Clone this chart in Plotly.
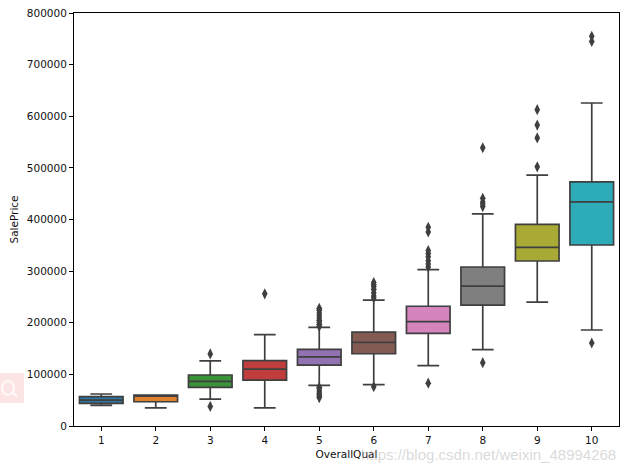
import plotly.graph_objects as go

categories = ["1", "2", "3", "4", "5", "6", "7", "8", "9", "10"]
q1 = [44000, 47000, 75000, 89000, 118000, 140000, 179500, 234000, 319600, 350600]
medians = [50000, 60000, 86500, 110000, 134000, 162000, 202000, 271000, 346000, 434000]
q3 = [56800, 60000, 98800, 126600, 148500, 182000, 232000, 308000, 390600, 473000]
low_whisker = [40000, 35300, 52000, 35000, 78800, 80000, 116800, 147800, 240000, 186000]
high_whisker = [62000, 60000, 126000, 177000, 191000, 244000, 303000, 411000, 486000, 625700]
outliers = [
    [],
    [],
    [37900, 139600],
    [256000],
    [55000, 58000, 61000, 64000, 68000, 72000, 75000, 193000, 197000, 201000, 205000, 209000, 214000, 219000, 224000, 228000],
    [76000, 248000, 252000, 258000, 265000, 270000, 274000, 278000],
    [83000, 308000, 314000, 320000, 328000, 334000, 340000, 376000, 385000],
    [122600, 425000, 430000, 434000, 441000, 539000],
    [502000, 558000, 583000, 612700],
    [160800, 745000, 755000],
]
colors = ["#3274a1", "#e1812c", "#3a923a", "#c03d3e", "#9372b2",
          "#845b53", "#d684bd", "#7f7f7f", "#a9aa35", "#2eabb8"]
x_title = "OverallQual"
y_title = "SalePrice"
watermark = "https://blog.csdn.net/weixin_48994268"
y_ticks = [0, 100000, 200000, 300000, 400000, 500000, 600000, 700000, 800000]

EDGE = "#3f3f3f"
FONT = "DejaVu Sans"
W, H = 626, 472
L, R, T, B = 74, 7, 13, 46

def px(x):
    return (x - L) / (W - L - R)

def py(y):
    return (H - B - y) / (H - T - B)

fig = go.Figure()
for i, c in enumerate(categories):
    fig.add_trace(go.Box(
        x=[c], q1=[q1[i]], median=[medians[i]], q3=[q3[i]],
        lowerfence=[low_whisker[i]], upperfence=[high_whisker[i]],
        width=0.8, whiskerwidth=0.5, boxpoints=False,
        fillcolor=colors[i], line=dict(color=EDGE, width=1.7),
        showlegend=False,
    ))
    if outliers[i]:
        fig.add_trace(go.Scatter(
            x=[c] * len(outliers[i]), y=outliers[i], mode="markers",
            marker=dict(symbol="diamond-tall", size=8, color=EDGE),
            showlegend=False,
        ))

axis_common = dict(
    showgrid=False, zeroline=False, showline=True, linecolor="#000000", linewidth=1,
    mirror=True, ticks="outside", ticklen=4, tickwidth=1, tickcolor="#000000",
    tickfont=dict(family=FONT, size=10.5, color="#111111"),
)
fig.update_xaxes(type="category", categoryorder="array", categoryarray=categories,
                 range=[-0.5, 9.5], tickmode="array", tickvals=categories, ticktext=categories,
                 title=dict(text=x_title, font=dict(family=FONT, size=10.5, color="#111111"), standoff=6),
                 **axis_common)
fig.update_yaxes(range=[0, 800000], tickmode="array", tickvals=y_ticks,
                 ticktext=[str(v) for v in y_ticks],
                 title=dict(text=y_title, font=dict(family=FONT, size=10.5, color="#111111"), standoff=6),
                 **axis_common)
fig.add_annotation(text=watermark, xref="paper", yref="paper", x=px(618), y=py(454),
                   xanchor="right", yanchor="middle", showarrow=False,
                   font=dict(family="Liberation Sans", size=15, color="rgba(170,170,170,0.45)"))
# Pink search badge at the left edge of the reference screenshot
fig.add_shape(type="rect", xref="paper", yref="paper", x0=px(-6), x1=px(24), y0=py(403), y1=py(373),
              fillcolor="#fde4e4", line=dict(width=0), layer="below")
fig.add_shape(type="circle", xref="paper", yref="paper", x0=px(2), x1=px(14), y0=py(395), y1=py(381),
              fillcolor="rgba(0,0,0,0)", line=dict(color="#fffafa", width=1.8), layer="below")
fig.add_shape(type="line", xref="paper", yref="paper", x0=px(13), x1=px(17), y0=py(393), y1=py(396),
              line=dict(color="#fffafa", width=2.2), layer="below")
fig.update_layout(
    width=W, height=H, margin=dict(l=L, r=R, t=T, b=B),
    paper_bgcolor="white", plot_bgcolor="white", boxmode="overlay", hovermode=False,
)
fig.write_html("out.html", config={"displayModeBar": False},
               post_script="document.body.style.margin='0';document.body.style.overflow='hidden';")
